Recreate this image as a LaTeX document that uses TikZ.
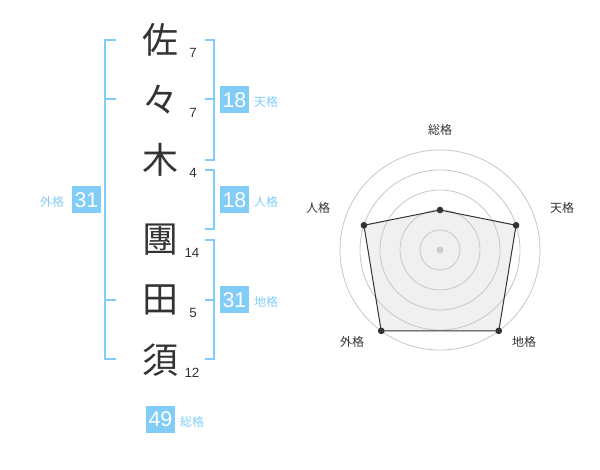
\documentclass[tikz,border=0pt]{standalone}
\usepackage{fontspec}
\setmainfont{Liberation Sans}
\newfontfamily\jp{Noto Sans CJK JP}
\definecolor{kakublue}{HTML}{82CDF8}
\definecolor{inkgray}{HTML}{333333}
\tikzset{
  kanji/.style={inner sep=0, text=inkgray, font=\jp\fontsize{27}{27}\selectfont},
  strokes/.style={inner sep=0, text=inkgray, font=\fontsize{10}{10}\selectfont},
  score/.style={fill=kakublue, text=white, minimum width=21.75pt, minimum height=20.25pt, inner sep=0, font=\fontsize{16}{16}\selectfont},
  kaku/.style={inner sep=0, text=kakublue, font=\jp\fontsize{9}{9}\selectfont},
  bracket/.style={draw=kakublue, line width=1.5pt},
  ring/.style={draw=black!22, line width=0.6pt},
  axislabel/.style={inner sep=0, text=inkgray, font=\jp\fontsize{9}{9}\selectfont},
  dot/.style={fill=inkgray, circle, inner sep=0, minimum size=5pt},
}
\begin{document}
\begin{tikzpicture}[x=0.75pt, y=-0.75pt]
  \useasboundingbox (0,0) rectangle (600,470);
  % name
  \node [kanji] (c1) at (160, 40) {佐};
  \node [kanji] (c2) at (160, 100) {々};
  \node [kanji] (c3) at (160, 160) {木};
  \node [kanji] (c4) at (160, 240) {團};
  \node [kanji] (c5) at (160, 300) {田};
  \node [kanji] (c6) at (160, 360) {須};
  \node [strokes] (n1) at (193, 53) {7};
  \node [strokes] (n2) at (193, 113) {7};
  \node [strokes] (n3) at (193, 173) {4};
  \node [strokes] (n4) at (192, 253) {14};
  \node [strokes] (n5) at (193, 313) {5};
  \node [strokes] (n6) at (192, 373) {12};
  % brackets
  \draw [bracket] (116, 40) -- (105, 40) -- (105, 359) -- (116, 359);
  \draw [bracket] (105, 99) -- (116, 99);
  \draw [bracket] (105, 300) -- (116, 300);
  \draw [bracket] (205, 40) -- (214, 40) -- (214, 160) -- (205, 160);
  \draw [bracket] (205, 99) -- (214, 99);
  \draw [bracket] (205, 170) -- (214, 170) -- (214, 229) -- (205, 229);
  \draw [bracket] (205, 240) -- (214, 240) -- (214, 359) -- (205, 359);
  \draw [bracket] (205, 300) -- (214, 300);
  % scores
  \node [score] (gai) at (86.5, 200) {31};
  \node [kaku] (gaiL) at (52, 202) {外格};
  \node [score] (ten) at (234.5, 100) {18};
  \node [kaku] (tenL) at (266, 102) {天格};
  \node [score] (jin) at (234.5, 200) {18};
  \node [kaku] (jinL) at (266, 202) {人格};
  \node [score] (chi) at (234.5, 300) {31};
  \node [kaku] (chiL) at (266, 302) {地格};
  \node [score] (sou) at (160.5, 419) {49};
  \node [kaku] (souL) at (192, 422) {総格};
  % radar
  \begin{scope}[shift={(440, 250)}]
    \coordinate (p1) at (-90:40);
    \coordinate (p2) at (-18:80);
    \coordinate (p3) at (54:100);
    \coordinate (p4) at (126:100);
    \coordinate (p5) at (198:80);
    \fill [black!6] (p1) -- (p2) -- (p3) -- (p4) -- (p5) -- cycle;
    \foreach \r in {20, 40, 60, 80, 100}
      \draw [ring] (0, 0) circle [radius=\r];
    \fill [black!20] (0, 0) circle [radius=3.5];
    \draw [draw=inkgray, line width=0.75pt]
      (p1) -- (p2) -- (p3) -- (p4) -- (p5) -- cycle;
    \foreach \p in {p1, p2, p3, p4, p5}
      \node [dot] at (\p) {};
    \node [axislabel] (a1) at (0, -120) {総格};
    \node [axislabel] (a2) at (122, -42) {天格};
    \node [axislabel] (a3) at (84, 92) {地格};
    \node [axislabel] (a4) at (-88, 92) {外格};
    \node [axislabel] (a5) at (-122, -42) {人格};
  \end{scope}
\end{tikzpicture}
\end{document}
